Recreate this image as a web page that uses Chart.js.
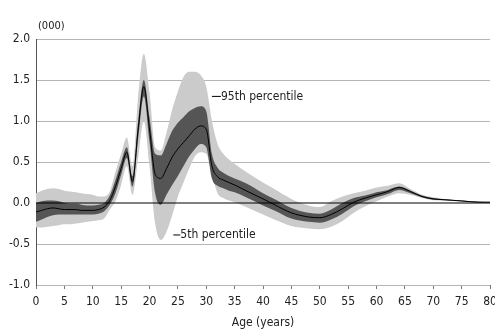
<!DOCTYPE html>
<html>
<head>
<meta charset="utf-8">
<script src="https://cdn.jsdelivr.net/npm/chart.js@4.4.1/dist/chart.umd.min.js"></script>
<style>
  html, body { margin: 0; padding: 0; background: #fff; }
  #wrap { width: 495px; height: 333px; }
</style>
</head>
<body>
<div id="wrap"><canvas id="fanChart"></canvas></div>
<script>
// Age (years) and values in thousands
const ages = [0,1,2,3,4,5,6,7,8,9,10,11,12,13,14,15,16,17,18,19,20,21,22,23,24,25,26,27,28,29,30,31,32,33,34,35,37,40,42,45,48,50,52,54,56,58,60,62,64,66,68,70,72,75,78,80];
const median = [-0.11,-0.09,-0.07,-0.06,-0.07,-0.08,-0.08,-0.08,-0.09,-0.09,-0.09,-0.08,-0.05,0.03,0.2,0.42,0.62,0.26,0.9,1.42,0.9,0.35,0.3,0.42,0.56,0.66,0.74,0.82,0.9,0.94,0.9,0.45,0.32,0.28,0.25,0.22,0.15,0.05,-0.02,-0.12,-0.17,-0.18,-0.14,-0.07,0.01,0.06,0.1,0.14,0.19,0.14,0.08,0.05,0.04,0.025,0.01,0.01];
const innerHi = [0.0,0.02,0.03,0.03,0.02,0.0,-0.01,-0.01,-0.02,-0.03,-0.03,-0.02,0.0,0.09,0.28,0.5,0.68,0.33,1.0,1.5,1.05,0.6,0.58,0.72,0.88,0.98,1.05,1.12,1.16,1.18,1.12,0.6,0.43,0.37,0.33,0.3,0.24,0.12,0.05,-0.06,-0.12,-0.13,-0.08,0.0,0.06,0.09,0.13,0.16,0.2,0.15,0.09,0.06,0.045,0.03,0.015,0.012];
const innerLo = [-0.23,-0.2,-0.17,-0.15,-0.14,-0.14,-0.14,-0.14,-0.14,-0.14,-0.14,-0.13,-0.1,-0.02,0.12,0.34,0.55,0.2,0.78,1.3,0.75,0.12,-0.02,0.1,0.22,0.33,0.45,0.57,0.66,0.72,0.68,0.3,0.21,0.18,0.15,0.13,0.07,-0.03,-0.09,-0.19,-0.23,-0.24,-0.2,-0.13,-0.04,0.02,0.07,0.11,0.16,0.12,0.07,0.04,0.035,0.02,0.008,0.008];
const outerHi = [0.12,0.15,0.17,0.18,0.17,0.15,0.14,0.13,0.12,0.11,0.1,0.08,0.08,0.14,0.38,0.6,0.8,0.45,1.3,1.82,1.35,0.68,0.64,0.86,1.14,1.36,1.54,1.6,1.6,1.56,1.42,1.0,0.72,0.6,0.53,0.48,0.38,0.25,0.17,0.05,-0.03,-0.05,0.02,0.08,0.12,0.15,0.19,0.21,0.24,0.17,0.1,0.07,0.05,0.035,0.02,0.015];
const outerLo = [-0.3,-0.3,-0.29,-0.28,-0.27,-0.26,-0.26,-0.25,-0.24,-0.23,-0.22,-0.21,-0.19,-0.08,0.02,0.22,0.45,0.1,0.55,1.0,0.45,-0.25,-0.45,-0.35,-0.15,0.08,0.25,0.42,0.57,0.62,0.6,0.35,0.12,0.06,0.03,0.01,-0.05,-0.14,-0.2,-0.28,-0.31,-0.32,-0.29,-0.22,-0.12,-0.04,0.02,0.08,0.12,0.1,0.06,0.035,0.03,0.015,0.005,0.005];
const yTicks = [-1.0,-0.5,0.0,0.5,1.0,1.5,2.0];
const xTicks = [0,5,10,15,20,25,30,35,40,45,50,55,60,65,70,75,80];

const FONT = '"DejaVu Sans Condensed", "Liberation Sans Narrow", "Liberation Sans", Arial, sans-serif';

function pts(vals) {
  return ages.map((a, i) => ({x: a, y: vals[i]}));
}

function band(vals, fill, color) {
  return {
    data: pts(vals),
    borderWidth: 0,
    pointRadius: 0,
    backgroundColor: color,
    fill: fill,
    cubicInterpolationMode: 'monotone'
  };
}

// zero line, unit label and percentile notes
const notes = {
  id: 'notes',
  afterDatasetsDraw(chart) {
    const c = chart.ctx;
    const xs = chart.scales.x;
    const ys = chart.scales.y;
    const area = chart.chartArea;
    c.save();
    c.strokeStyle = '#000';
    c.lineWidth = 1.2;
    c.beginPath();
    c.moveTo(area.left, ys.getPixelForValue(0));
    c.lineTo(area.right, ys.getPixelForValue(0));
    c.stroke();

    c.fillStyle = '#222';
    c.font = '11px ' + FONT;
    c.textBaseline = 'middle';
    c.fillText('(000)', area.left + 2, area.top - 13);

    c.font = '12px ' + FONT;
    c.lineWidth = 1;
    const y95 = ys.getPixelForValue(1.3);
    const x95 = xs.getPixelForValue(31.0);
    c.beginPath();
    c.moveTo(x95, y95);
    c.lineTo(x95 + 9, y95);
    c.stroke();
    c.fillText('95th percentile', x95 + 9, y95);

    const y5 = ys.getPixelForValue(-0.39);
    const x5 = xs.getPixelForValue(24.2);
    c.beginPath();
    c.moveTo(x5, y5);
    c.lineTo(x5 + 7, y5);
    c.stroke();
    c.fillText('5th percentile', x5 + 7, y5);
    c.restore();
  }
};

new Chart(document.getElementById('fanChart'), {
  type: 'line',
  data: {
    datasets: [
      {
        data: pts(median),
        borderColor: '#000',
        borderWidth: 1,
        pointRadius: 0,
        fill: false,
        cubicInterpolationMode: 'monotone'
      },
      band(innerHi, '+1', '#555555'),
      band(innerLo, false, 'rgba(0,0,0,0)'),
      band(outerHi, '+1', '#cbcbcb'),
      band(outerLo, false, 'rgba(0,0,0,0)')
    ]
  },
  options: {
    responsive: true,
    maintainAspectRatio: false,
    animation: false,
    events: [],
    layout: {padding: {top: 39, right: 0, left: 0, bottom: 0}},
    plugins: {legend: {display: false}, tooltip: {enabled: false}},
    scales: {
      x: {
        type: 'linear',
        min: 0,
        max: 80,
        afterBuildTicks: s => { s.ticks = xTicks.map(v => ({value: v})); },
        afterFit: s => { s.height = 48; s.paddingRight = 5; s.paddingLeft = 0; },
        grid: {drawOnChartArea: false, drawTicks: true, tickLength: 4, color: '#777'},
        border: {display: false},
        ticks: {color: '#222', font: {family: FONT, size: 12}, padding: 6, maxRotation: 0},
        title: {display: true, text: 'Age (years)', color: '#222', font: {family: FONT, size: 12}, padding: {top: 2, bottom: 3}}
      },
      y: {
        min: -1,
        max: 2,
        afterBuildTicks: s => { s.ticks = yTicks.map(v => ({value: v})); },
        afterFit: s => { s.width = 36; },
        grid: {
          drawOnChartArea: true,
          drawTicks: false,
          lineWidth: 1,
          color: ctx => (ctx.tick && ctx.tick.value === 0) ? 'rgba(0,0,0,0)' : '#b4b4b4'
        },
        border: {display: true, color: '#555', width: 1},
        ticks: {
          color: '#222',
          font: {family: FONT, size: 12},
          padding: 6,
          callback: v => v.toFixed(1)
        }
      }
    }
  },
  plugins: [notes]
});
</script>
</body>
</html>
